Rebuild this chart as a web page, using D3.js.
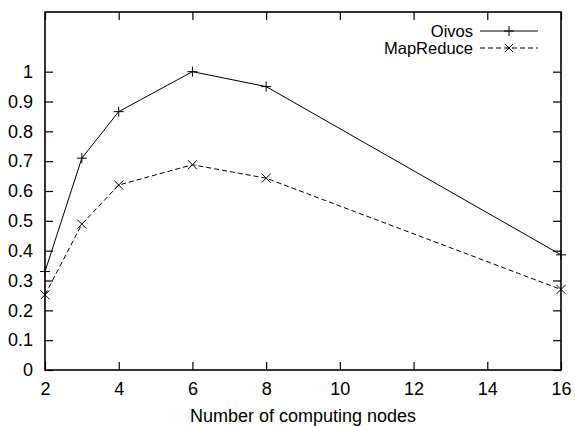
<!DOCTYPE html>
<html>
<head>
<meta charset="utf-8">
<script src="https://cdn.jsdelivr.net/npm/d3@7"></script>
<style>
  body { margin: 0; background: #fff; }
  svg text { font-family: "Liberation Sans", Arial, sans-serif; fill: #000; }
</style>
</head>
<body>
<svg id="chart" width="575" height="426"></svg>
<script>
// data
const nodes = [2, 3, 4, 6, 8, 16];
const oivos = [0.33, 0.71, 0.866, 1.0, 0.95, 0.386];
const mapReduce = [0.252, 0.489, 0.62, 0.688, 0.643, 0.27];
const xTicks = [2, 4, 6, 8, 10, 12, 14, 16];
const yTicks = [0, 0.1, 0.2, 0.3, 0.4, 0.5, 0.6, 0.7, 0.8, 0.9, 1];

const series = [
  {name: "Oivos", values: oivos, dash: null, marker: "plus"},
  {name: "MapReduce", values: mapReduce, dash: "5,3", marker: "cross"}
];

// plot box, the gnuplot way
const margin = {top: 12, right: 14, bottom: 56, left: 45};
const W = 575, H = 426;
const width = W - margin.left - margin.right;
const height = H - margin.top - margin.bottom;
const fs = "18px";

const svg = d3.select("#chart");
const g = svg.append("g").attr("transform", `translate(${margin.left},${margin.top})`);

const x = d3.scaleLinear().domain([2, 16]).range([0, width]);
const y = d3.scaleLinear().domain([0, 1.2]).range([height, 0]);

// axes, ticks pointing in
const tl = 8;
g.append("g").attr("transform", `translate(0,${height})`)
  .call(d3.axisBottom(x).tickValues(xTicks).tickSize(-tl).tickPadding(12).tickFormat(d3.format("d")));
g.append("g")
  .call(d3.axisTop(x).tickValues(xTicks).tickSize(-tl).tickFormat(""));
g.append("g")
  .call(d3.axisLeft(y).tickValues(yTicks).tickSize(-tl).tickPadding(12).tickFormat(d => String(+d.toFixed(1))));
g.append("g").attr("transform", `translate(${width},0)`)
  .call(d3.axisRight(y).tickValues(yTicks).tickSize(-tl).tickFormat(""));

g.selectAll(".domain").remove();
g.selectAll(".tick line").attr("stroke", "#000").attr("stroke-width", 1.2);
g.selectAll(".tick text").style("font-size", fs).attr("fill", "#000");

// frame
g.append("rect")
  .attr("width", width).attr("height", height)
  .attr("fill", "none").attr("stroke", "#000").attr("stroke-width", 1.6);

// lines
const line = d3.line().x(d => x(d[0])).y(d => y(d[1]));

function marker(sel, type, s) {
  const p = type === "plus"
    ? `M${-s},0H${s}M0,${-s}V${s}`
    : `M${-s},${-s}L${s},${s}M${-s},${s}L${s},${-s}`;
  sel.append("path").attr("d", p).attr("stroke", "#000").attr("stroke-width", 1).attr("fill", "none");
}

series.forEach(s => {
  const pts = nodes.map((n, i) => [n, s.values[i]]);
  g.append("path").datum(pts)
    .attr("d", line)
    .attr("fill", "none").attr("stroke", "#000").attr("stroke-width", 1)
    .attr("stroke-dasharray", s.dash);
  g.selectAll(null).data(pts).enter().append("g")
    .attr("transform", d => `translate(${x(d[0])},${y(d[1])})`)
    .each(function() { marker(d3.select(this), s.marker, s.marker === "plus" ? 5 : 4.5); });
});

// legend (slightly smaller font so the two rows don't collide)
const leg = g.append("g");
series.forEach((s, i) => {
  const ly = 19 + i * 17;
  leg.append("text").attr("x", 428).attr("y", ly).attr("dy", "0.36em")
    .attr("text-anchor", "end").style("font-size", "16.5px").text(s.name);
  leg.append("line").attr("x1", 435).attr("x2", 493).attr("y1", ly).attr("y2", ly)
    .attr("stroke", "#000").attr("stroke-width", 1).attr("stroke-dasharray", s.dash);
  const m = leg.append("g").attr("transform", `translate(464,${ly})`);
  marker(m, s.marker, s.marker === "plus" ? 5 : 4);
});

// axis title
svg.append("text")
  .attr("x", margin.left + width / 2).attr("y", 422)
  .attr("text-anchor", "middle").style("font-size", fs)
  .text("Number of computing nodes");
</script>
</body>
</html>
